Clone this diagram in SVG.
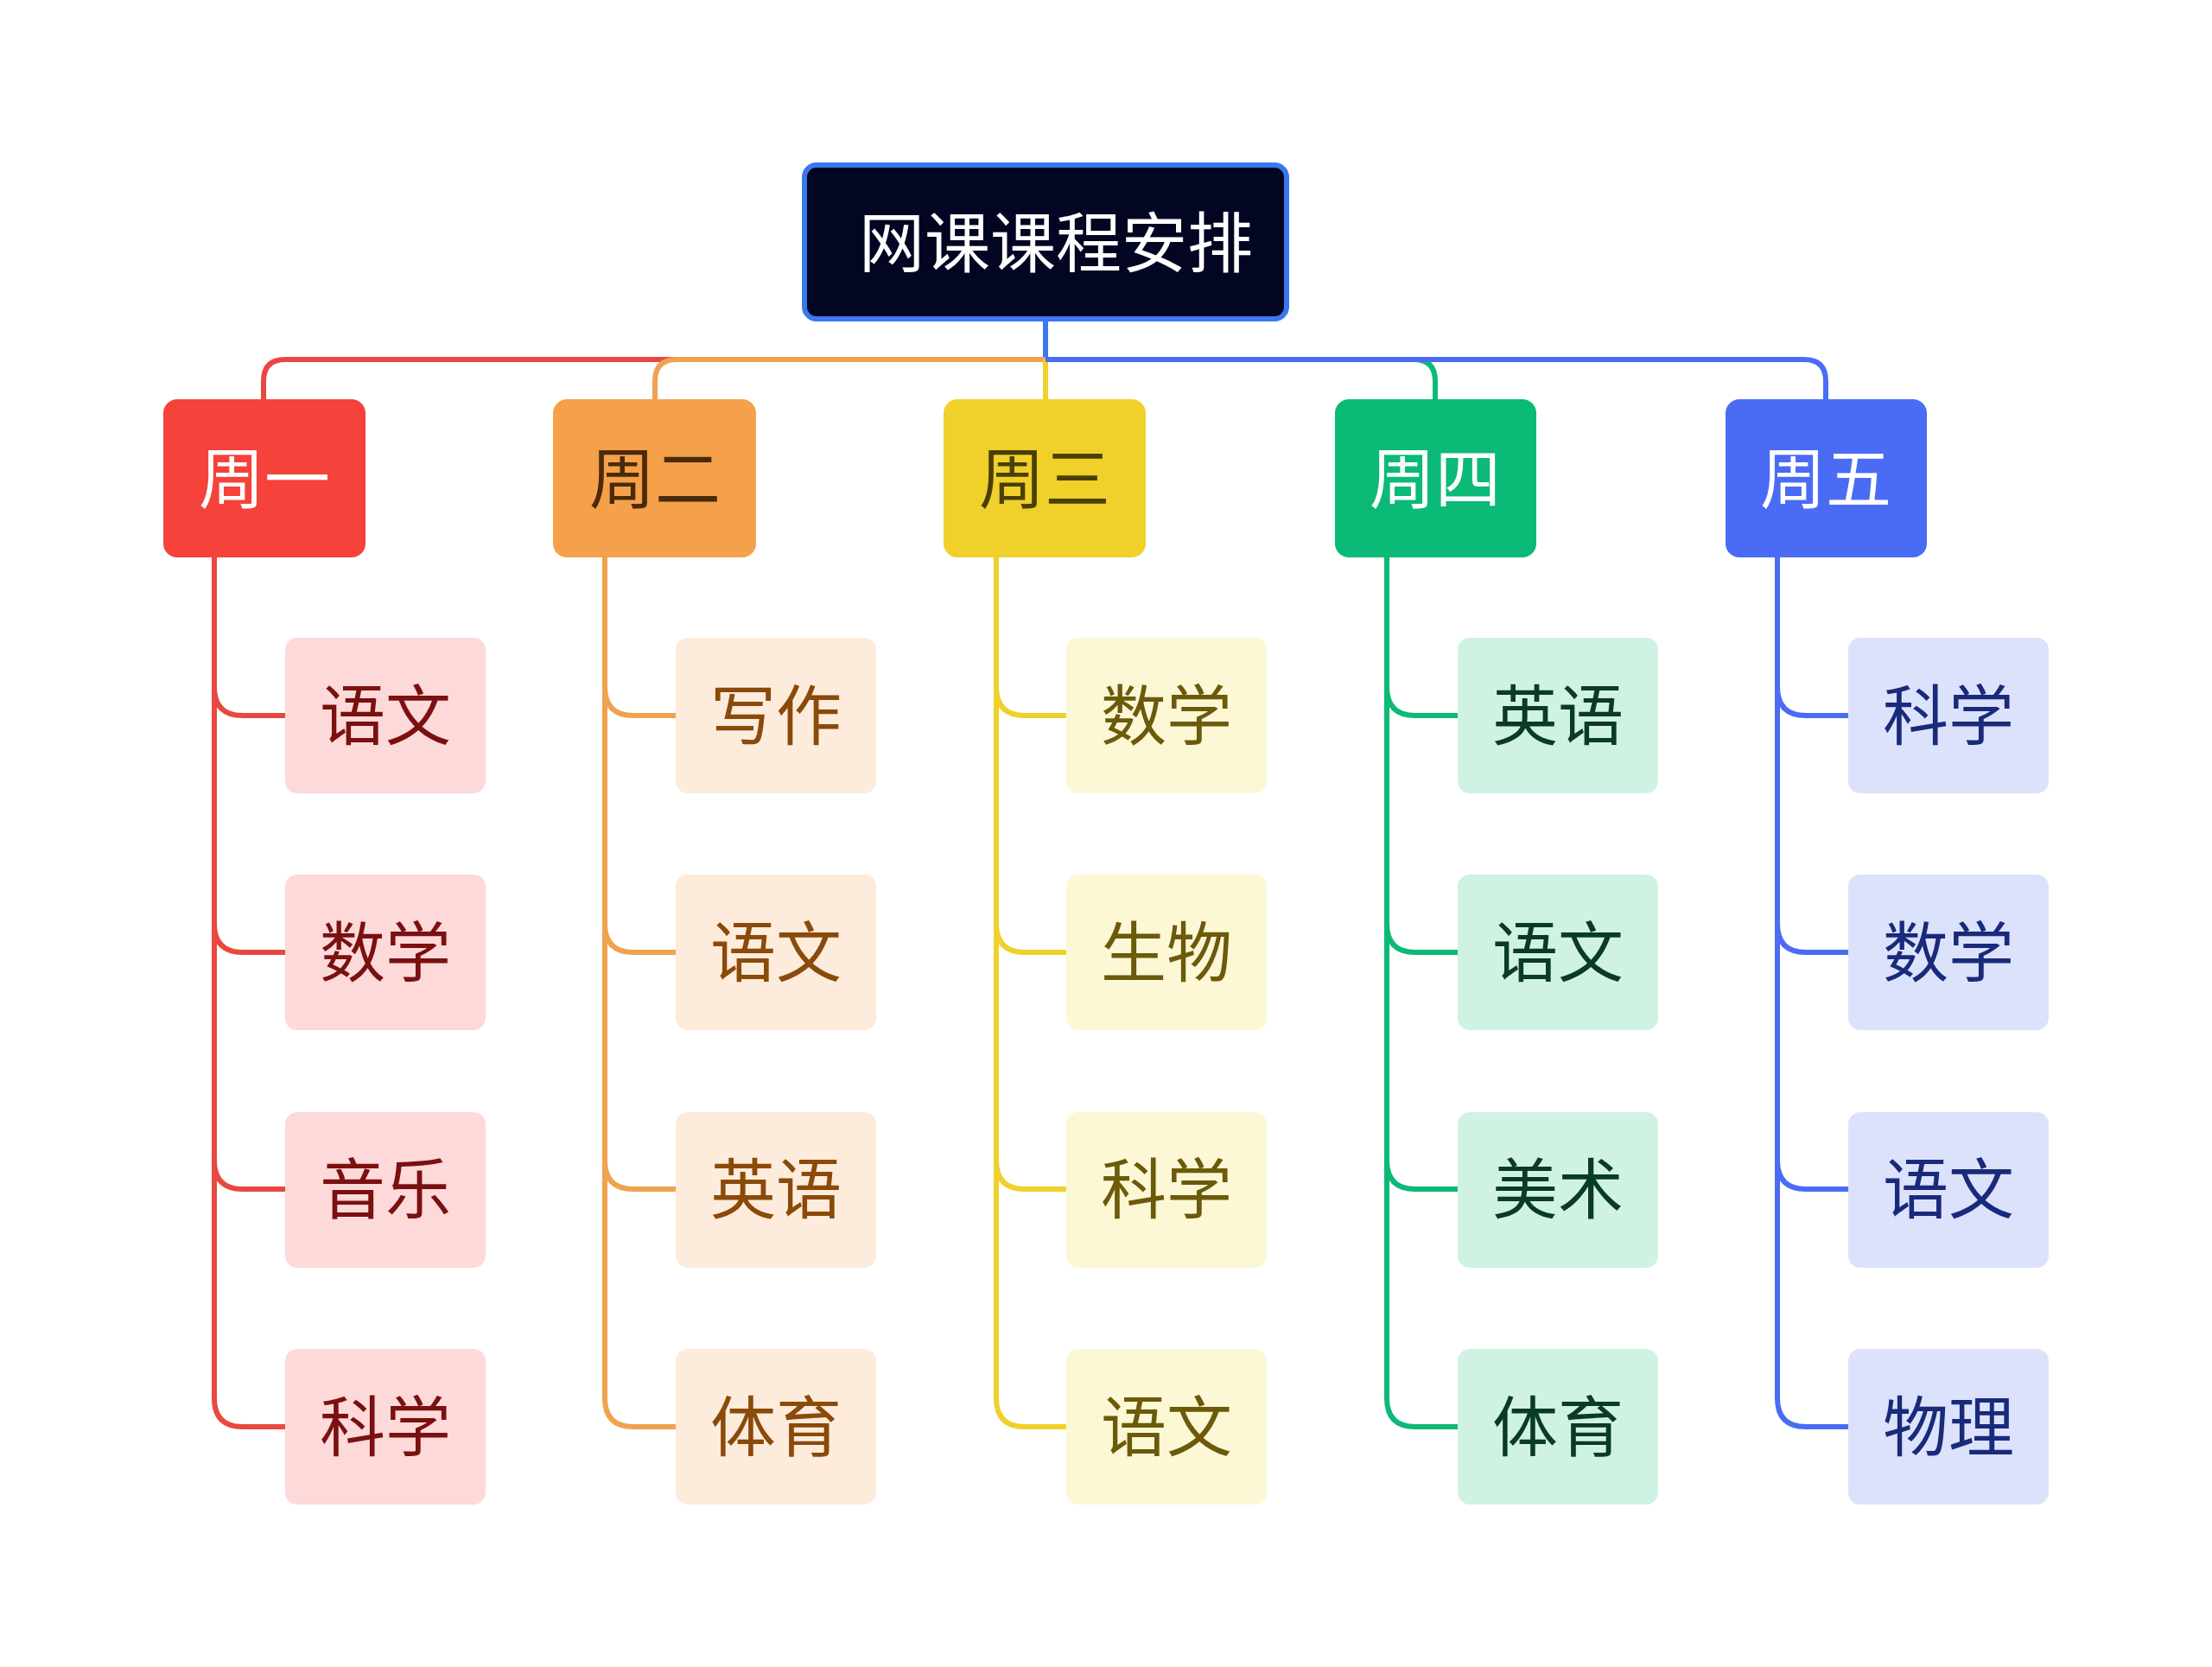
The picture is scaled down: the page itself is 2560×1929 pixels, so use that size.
<svg xmlns="http://www.w3.org/2000/svg" width="2560" height="1929" viewBox="0 0 2560 1929">
<style>
text{font-family:"Noto Sans CJK SC","Noto Sans",sans-serif;font-size:76px;text-anchor:middle;dominant-baseline:central}
.l{fill:none;stroke-width:6}
</style>
<rect width="2560" height="1929" fill="#fff"/>
<g id="connectors">
<path class="l" stroke="#3A78F0" d="M1210 369V416"/>
<path class="l" stroke="#E8483F" d="M1210 416H330Q305 416 305 441V462"/>
<path class="l" stroke="#F0A24E" d="M1210 416H783Q758 416 758 441V462"/>
<path class="l" stroke="#F0D02A" d="M1210 416V462"/>
<path class="l" stroke="#0BBA76" d="M1210 416H1636Q1661 416 1661 441V462"/>
<path class="l" stroke="#4A6CF5" d="M1210 416H2088Q2113 416 2113 441V462"/>
<g stroke="#E8483F" class="l"><path d="M248 645V1618M248 795Q248 828 281 828H330M248 1069Q248 1102 281 1102H330M248 1343Q248 1376 281 1376H330M248 1618Q248 1651 281 1651H330"/></g>
<g stroke="#F0A24E" class="l"><path d="M700 645V1618M700 795Q700 828 733 828H782M700 1069Q700 1102 733 1102H782M700 1343Q700 1376 733 1376H782M700 1618Q700 1651 733 1651H782"/></g>
<g stroke="#F0D02A" class="l"><path d="M1153 645V1618M1153 795Q1153 828 1186 828H1234M1153 1069Q1153 1102 1186 1102H1234M1153 1343Q1153 1376 1186 1376H1234M1153 1618Q1153 1651 1186 1651H1234"/></g>
<g stroke="#0BBA76" class="l"><path d="M1605 645V1618M1605 795Q1605 828 1638 828H1687M1605 1069Q1605 1102 1638 1102H1687M1605 1343Q1605 1376 1638 1376H1687M1605 1618Q1605 1651 1638 1651H1687"/></g>
<g stroke="#4A6CF5" class="l"><path d="M2057 645V1618M2057 795Q2057 828 2090 828H2139M2057 1069Q2057 1102 2090 1102H2139M2057 1343Q2057 1376 2090 1376H2139M2057 1618Q2057 1651 2090 1651H2139"/></g>
</g>
<g id="root"><rect x="931" y="191" width="558" height="178" rx="14" fill="#020622" stroke="#3A78F0" stroke-width="6"/><text x="1222" y="276" fill="#fff">网课课程安排</text></g>
<g id="d1"><rect x="189" y="462" width="234" height="183" rx="16" fill="#F5423A"/><text x="306" y="549" fill="#fff">周一</text></g>
<g id="d2"><rect x="640" y="462" width="235" height="183" rx="16" fill="#F5A04A"/><text x="758" y="549" fill="#4A2A08">周二</text></g>
<g id="d3"><rect x="1092" y="462" width="234" height="183" rx="16" fill="#F0D02A"/><text x="1209" y="549" fill="#4A3F05">周三</text></g>
<g id="d4"><rect x="1545" y="462" width="233" height="183" rx="16" fill="#0BBA76"/><text x="1661" y="549" fill="#fff">周四</text></g>
<g id="d5"><rect x="1997" y="462" width="233" height="183" rx="16" fill="#4A6CF5"/><text x="2113" y="549" fill="#fff">周五</text></g>
<g fill="#FDD9D9">
<g id="a1"><rect x="330" y="738" width="232" height="180" rx="14"/><text x="446" y="823" fill="#7A1010">语文</text></g>
<g id="a2"><rect x="330" y="1012" width="232" height="180" rx="14"/><text x="446" y="1097" fill="#7A1010">数学</text></g>
<g id="a3"><rect x="330" y="1287" width="232" height="180" rx="14"/><text x="446" y="1371" fill="#7A1010">音乐</text></g>
<g id="a4"><rect x="330" y="1561" width="232" height="180" rx="14"/><text x="446" y="1646" fill="#7A1010">科学</text></g>
</g>
<g fill="#FDEBDB">
<g id="b1"><rect x="782" y="738" width="232" height="180" rx="14"/><text x="898" y="823" fill="#8A4A0A">写作</text></g>
<g id="b2"><rect x="782" y="1012" width="232" height="180" rx="14"/><text x="898" y="1097" fill="#8A4A0A">语文</text></g>
<g id="b3"><rect x="782" y="1287" width="232" height="180" rx="14"/><text x="898" y="1371" fill="#8A4A0A">英语</text></g>
<g id="b4"><rect x="782" y="1561" width="232" height="180" rx="14"/><text x="898" y="1646" fill="#8A4A0A">体育</text></g>
</g>
<g fill="#FCF7D5">
<g id="c1"><rect x="1234" y="738" width="232" height="180" rx="14"/><text x="1350" y="823" fill="#6B5A0A">数学</text></g>
<g id="c2"><rect x="1234" y="1012" width="232" height="180" rx="14"/><text x="1350" y="1097" fill="#6B5A0A">生物</text></g>
<g id="c3"><rect x="1234" y="1287" width="232" height="180" rx="14"/><text x="1350" y="1371" fill="#6B5A0A">科学</text></g>
<g id="c4"><rect x="1234" y="1561" width="232" height="180" rx="14"/><text x="1350" y="1646" fill="#6B5A0A">语文</text></g>
</g>
<g fill="#D0F2E3">
<g id="e1"><rect x="1687" y="738" width="232" height="180" rx="14"/><text x="1803" y="823" fill="#0A3A28">英语</text></g>
<g id="e2"><rect x="1687" y="1012" width="232" height="180" rx="14"/><text x="1803" y="1097" fill="#0A3A28">语文</text></g>
<g id="e3"><rect x="1687" y="1287" width="232" height="180" rx="14"/><text x="1803" y="1371" fill="#0A3A28">美术</text></g>
<g id="e4"><rect x="1687" y="1561" width="232" height="180" rx="14"/><text x="1803" y="1646" fill="#0A3A28">体育</text></g>
</g>
<g fill="#DCE2FB">
<g id="f1"><rect x="2139" y="738" width="232" height="180" rx="14"/><text x="2255" y="823" fill="#1A2A7A">科学</text></g>
<g id="f2"><rect x="2139" y="1012" width="232" height="180" rx="14"/><text x="2255" y="1097" fill="#1A2A7A">数学</text></g>
<g id="f3"><rect x="2139" y="1287" width="232" height="180" rx="14"/><text x="2255" y="1371" fill="#1A2A7A">语文</text></g>
<g id="f4"><rect x="2139" y="1561" width="232" height="180" rx="14"/><text x="2255" y="1646" fill="#1A2A7A">物理</text></g>
</g>
</svg>
